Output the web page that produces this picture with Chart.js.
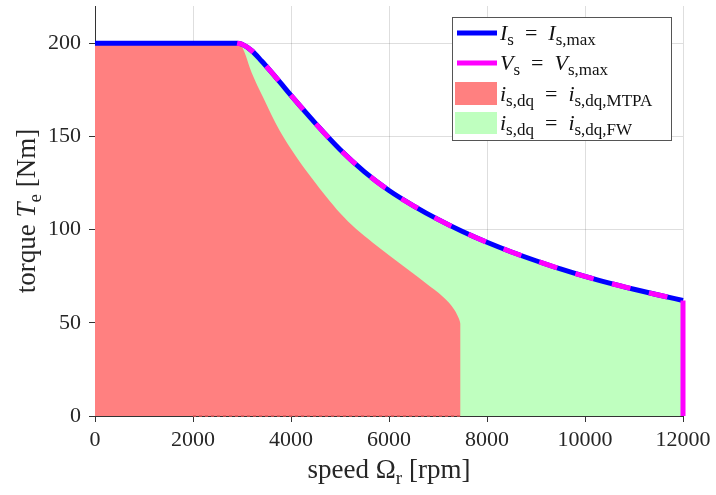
<!DOCTYPE html>
<html>
<head>
<meta charset="utf-8">
<script src="https://cdn.jsdelivr.net/npm/chart.js@4"></script>
<style>
    html, body { margin: 0; background: #fff; }
</style>
</head>
<body>
<canvas id="torqueChart" width="716" height="495"></canvas>
<script>
// ============================================
// Data
// ============================================

// envelope: I_s = I_s,max (blue)
const speedEnv = [0, 2900, 3000, 3200, 3400, 3600, 3800, 4000, 4500, 5000, 5500, 6000,
                  6500, 7000, 7500, 8000, 8500, 9000, 9500, 10000, 10500, 11000, 11500, 12000];
const torqueEnv = [200, 200, 199.5, 196, 190.5, 184.5, 178.3, 172, 157, 143, 131, 121,
                   112.8, 105.5, 99, 93.2, 88, 83.3, 78.9, 74.9, 71.3, 68, 64.9, 62];

// voltage limit: V_s = V_s,max (magenta, dashed) + end drop at max speed
const speedVmax = speedEnv.slice(1);
const torqueVmax = torqueEnv.slice(1);
const speedVend = [12000, 12000];
const torqueVend = [62, 0];

// MTPA region boundary (red), region closes straight down to 0 at the last point
const speedMtpa = [0, 2920, 3020, 3200, 3430, 3770, 4110, 4450, 4720, 5000, 5330, 5670,
                   6000, 6420, 6760, 7100, 7340, 7430, 7460];
const torqueMtpa = [200, 200, 197, 184, 171, 153, 139, 126.8, 117.6, 108.9, 100.3, 93,
                    86.3, 77.9, 71.1, 64, 56.8, 52, 49.5];

// dotted red edge along the axis
const speedEdge = [2000, 7460];
const torqueEdge = [0, 0];

const xTicks = [0, 2000, 4000, 6000, 8000, 10000, 12000];
const yTicks = [0, 50, 100, 150, 200];

const FONT = '"Liberation Serif", "DejaVu Serif", serif';
const TEXT = '#262626';

const pts = (xs, ys) => xs.map((x, i) => ({ x: x, y: ys[i] }));

// ============================================
// Text with subscripts / italics
// ============================================
function drawRich(ctx, parts, x, y, size, align, subScale) {
    const sub = Math.round(size * (subScale || 0.72));
    const fontFor = k => k === 'i' ? `italic ${size}px ${FONT}`
        : k === 's' ? `${sub}px ${FONT}` : `${size}px ${FONT}`;
    let w = 0;
    parts.forEach(([t, k]) => { ctx.font = fontFor(k); w += ctx.measureText(t).width; });
    let cx = align === 'center' ? x - w / 2 : x;
    parts.forEach(([t, k]) => {
        ctx.font = fontFor(k);
        ctx.fillText(t, cx, k === 's' ? y + size * 0.22 : y);
        cx += ctx.measureText(t).width;
    });
}

const EQ = '\u2002=\u2002';

const decorations = {
    id: 'decorations',
    afterDraw(chart) {
        const ctx = chart.ctx;
        const area = chart.chartArea;
        ctx.save();
        ctx.fillStyle = TEXT;
        ctx.textBaseline = 'alphabetic';
        ctx.textAlign = 'left';

        // axis titles
        drawRich(ctx, [['speed ', 'r'], ['\u03A9', 'r'], ['r', 's'], [' [rpm]', 'r']],
            (area.left + area.right) / 2, 478, 27, 'center');
        ctx.save();
        ctx.translate(35, (area.top + area.bottom) / 2);
        ctx.rotate(-Math.PI / 2);
        drawRich(ctx, [['torque ', 'r'], ['T', 'i'], ['e', 's'], [' [Nm]', 'r']], 0, 0, 27, 'center');
        ctx.restore();

        // legend
        ctx.fillStyle = '#fff';
        ctx.fillRect(452, 17, 220, 123);
        ctx.strokeStyle = '#555';
        ctx.lineWidth = 1;
        ctx.strokeRect(452.5, 17.5, 219, 123);

        ctx.lineWidth = 5;
        ctx.strokeStyle = '#0000ff';
        ctx.beginPath(); ctx.moveTo(457, 33); ctx.lineTo(497, 33); ctx.stroke();
        ctx.strokeStyle = '#ff00ff';
        ctx.beginPath(); ctx.moveTo(457, 63); ctx.lineTo(497, 63); ctx.stroke();
        ctx.fillStyle = '#ff8080';
        ctx.fillRect(455, 82, 42, 23);
        ctx.fillStyle = '#bfffbf';
        ctx.fillRect(455, 112, 42, 22);

        ctx.fillStyle = '#111';
        drawRich(ctx, [['I', 'i'], ['s', 's'], [EQ, 'r'], ['I', 'i'], ['s,max', 's']], 500, 40, 22, 'left', 0.76);
        drawRich(ctx, [['V', 'i'], ['s', 's'], [EQ, 'r'], ['V', 'i'], ['s,max', 's']], 500, 70, 22, 'left', 0.76);
        drawRich(ctx, [['i', 'i'], ['s,dq', 's'], [EQ, 'r'], ['i', 'i'], ['s,dq,MTPA', 's']], 500, 101, 22, 'left', 0.76);
        drawRich(ctx, [['i', 'i'], ['s,dq', 's'], [EQ, 'r'], ['i', 'i'], ['s,dq,FW', 's']], 500, 130, 22, 'left', 0.76);
        ctx.restore();
    }
};

// ============================================
// Chart
// ============================================
const ctx = document.getElementById('torqueChart').getContext('2d');
new Chart(ctx, {
    type: 'line',
    data: {
        datasets: [
            {
                data: pts(speedVend, torqueVend),
                borderColor: '#ff00ff', borderWidth: 5,
                cubicInterpolationMode: 'default', tension: 0,
                pointRadius: 0, fill: false, clip: false
            },
            {
                data: pts(speedVmax, torqueVmax),
                borderColor: '#ff00ff', borderWidth: 5, borderDash: [19, 19],
                pointRadius: 0, fill: false, clip: false
            },
            {
                data: pts(speedEnv, torqueEnv),
                borderColor: '#0000ff', borderWidth: 5,
                pointRadius: 0, fill: false, clip: false
            },
            {
                data: pts(speedEdge, torqueEdge),
                borderColor: '#e05a5a', borderWidth: 1.5, borderDash: [3, 3],
                cubicInterpolationMode: 'default', tension: 0,
                pointRadius: 0, fill: false, clip: false
            },
            {
                data: pts(speedMtpa, torqueMtpa),
                borderWidth: 0, borderColor: 'rgba(0,0,0,0)',
                backgroundColor: '#ff8080',
                pointRadius: 0, fill: 'origin'
            },
            {
                data: pts(speedEnv, torqueEnv),
                borderWidth: 0, borderColor: 'rgba(0,0,0,0)',
                backgroundColor: '#bfffbf',
                pointRadius: 0, fill: 'origin'
            }
        ]
    },
    options: {
        responsive: false,
        animation: false,
        layout: { padding: { top: 6, right: 33, left: 0, bottom: 0 } },
        plugins: {
            legend: { display: false },
            tooltip: { enabled: false }
        },
        elements: { line: { cubicInterpolationMode: 'monotone' } },
        scales: {
            x: {
                type: 'linear',
                min: 0, max: 12000,
                z: 1,
                afterBuildTicks: s => { s.ticks = xTicks.map(v => ({ value: v })); },
                afterFit: s => { s.height = 79; s.paddingLeft = 0; s.paddingRight = 0; },
                ticks: {
                    color: TEXT, padding: 5, maxRotation: 0,
                    font: { family: FONT, size: 22 },
                    callback: v => String(v)
                },
                grid: { color: 'rgba(0,0,0,0.13)', tickColor: '#333', tickLength: 6 },
                border: { color: '#333', width: 1 }
            },
            y: {
                min: 0, max: 220,
                z: 1,
                afterBuildTicks: s => { s.ticks = yTicks.map(v => ({ value: v })); },
                afterFit: s => { s.width = 95; s.paddingTop = 0; s.paddingBottom = 0; },
                ticks: {
                    color: TEXT, padding: 8,
                    font: { family: FONT, size: 22 },
                    callback: v => String(v)
                },
                grid: { color: 'rgba(0,0,0,0.13)', tickColor: '#333', tickLength: 6 },
                border: { color: '#333', width: 1 }
            }
        }
    },
    plugins: [decorations]
});
</script>
</body>
</html>
